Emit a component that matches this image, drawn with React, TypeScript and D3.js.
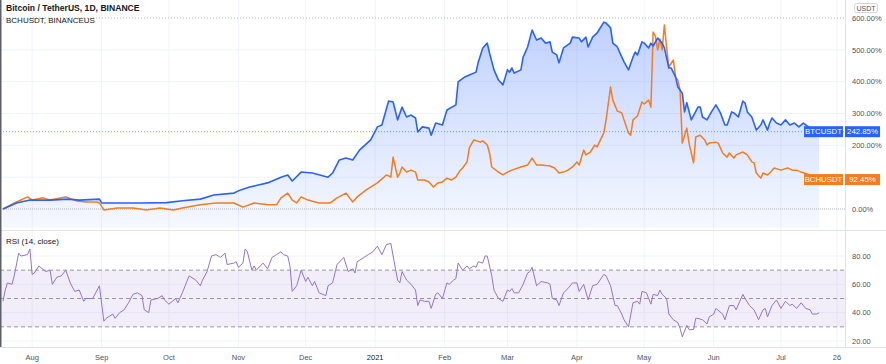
import React from "react";
import * as d3 from "d3";

// day offsets from 2020-07-19, percent change
const btcSeries: [number, number][] = [
  [0, 0], [6, 19], [12, 28], [21, 28], [29, 31], [34, 28], [43, 31], [44, 19], [51, 19], [61, 19],
  [73, 20], [80, 26], [88, 31], [94, 44], [103, 50], [106, 60], [110, 69], [118, 82], [124, 100], [127, 107],
  [129, 88], [133, 116], [138, 113], [145, 100], [147, 113], [150, 154], [153, 160], [156, 154], [159, 185], [164, 217],
  [167, 258], [169, 264], [172, 339], [174, 336], [176, 280], [178, 320], [180, 289], [182, 295], [184, 286], [185, 242],
  [187, 258], [190, 254], [191, 232], [193, 270], [196, 264], [198, 311], [202, 327], [203, 399], [206, 415], [208, 421],
  [211, 430], [212, 462], [214, 506], [216, 521], [217, 490], [219, 437], [221, 405], [223, 390], [225, 437], [226, 430],
  [227, 443], [228, 427], [231, 437], [232, 477], [234, 509], [236, 562], [238, 531], [240, 537], [242, 521], [244, 525],
  [245, 493], [247, 484], [248, 459], [250, 506], [253, 521], [254, 540], [257, 537], [258, 525], [260, 540], [261, 509],
  [263, 540], [265, 553], [268, 587], [269, 584], [271, 569], [272, 521], [274, 509], [275, 493], [277, 462], [279, 437],
  [281, 477], [282, 493], [283, 484], [285, 525], [286, 521], [288, 506], [289, 521], [290, 512], [292, 537], [294, 521],
  [295, 506], [297, 443], [298, 443], [300, 415], [301, 383], [303, 364], [304, 305], [305, 334], [307, 280], [310, 320],
  [311, 320], [312, 289], [314, 280], [316, 305], [318, 327], [320, 302], [322, 264], [323, 264], [325, 305], [326, 302],
  [328, 289], [330, 339], [331, 333], [332, 305], [334, 289], [336, 248], [338, 264], [339, 280], [341, 248], [342, 270],
  [343, 286], [345, 270], [347, 264], [349, 280], [351, 264], [353, 270], [355, 258], [357, 270], [360, 254], [362, 248],
  [364, 242.85],
];

const bchSeries: [number, number][] = [
  [0, 0], [6, 22], [11, 38], [13, 28], [18, 35], [21, 28], [28, 38], [33, 25], [37, 22], [42, 22],
  [43, 19], [45, -3], [51, 3], [58, 3], [64, -3], [70, 3], [76, -3], [80, 3], [88, 13], [95, 19],
  [103, 19], [107, 6], [112, 19], [118, 13], [122, 13], [124, 35], [127, 50], [129, 28], [131, 19], [133, 38],
  [136, 28], [141, 19], [146, 19], [149, 35], [153, 50], [156, 22], [158, 38], [162, 60], [167, 82], [171, 107],
  [173, 100], [174, 163], [176, 100], [177, 113], [178, 132], [180, 116], [182, 122], [184, 116], [185, 91], [188, 91],
  [190, 85], [192, 69], [194, 82], [196, 85], [198, 97], [200, 91], [202, 100], [204, 122], [205, 129], [207, 148],
  [208, 192], [210, 217], [213, 210], [214, 214], [216, 201], [217, 176], [218, 132], [221, 116], [223, 107], [225, 116],
  [227, 122], [231, 132], [234, 138], [236, 160], [238, 138], [240, 138], [244, 135], [246, 129], [248, 113], [250, 116],
  [252, 122], [254, 132], [256, 148], [257, 138], [259, 185], [260, 170], [262, 179], [264, 201], [265, 195], [266, 210],
  [268, 239], [269, 280], [271, 383], [272, 342], [274, 308], [276, 302], [277, 280], [279, 239], [280, 232], [281, 280],
  [283, 292], [285, 336], [286, 330], [288, 342], [289, 320], [290, 556], [291, 543], [292, 500], [293, 534], [294, 500],
  [295, 578], [296, 506], [297, 446], [299, 468], [300, 415], [301, 405], [302, 374], [303, 207], [305, 254], [306, 207],
  [308, 145], [309, 226], [311, 232], [313, 217], [314, 201], [315, 207], [318, 210], [319, 207], [321, 176], [323, 163],
  [324, 176], [326, 160], [327, 170], [330, 179], [332, 170], [334, 148], [335, 145], [336, 113], [338, 97], [339, 113],
  [341, 107], [342, 113], [344, 129], [347, 122], [350, 129], [352, 122], [354, 122], [356, 116], [360, 107], [362, 100],
  [364, 92.45],
];

const rsiSeries: [number, number][] = [
  [0, 48], [1, 56], [2, 61], [4, 60], [5, 66], [7, 82], [8, 80], [11, 81], [12, 85], [13, 67],
  [14, 68], [16, 73], [19, 69], [21, 70], [22, 60], [24, 65], [26, 66], [28, 70], [30, 61], [32, 55],
  [34, 56], [36, 48], [37, 50], [40, 50], [42, 56], [43, 59], [45, 34], [46, 36], [49, 39], [50, 36],
  [52, 40], [54, 42], [56, 47], [58, 53], [60, 54], [62, 52], [63, 42], [65, 40], [66, 49], [69, 50],
  [71, 52], [72, 49], [74, 46], [77, 50], [78, 47], [80, 54], [82, 62], [83, 66], [86, 63], [88, 59],
  [89, 63], [91, 69], [93, 80], [95, 81], [97, 79], [99, 82], [100, 74], [103, 75], [104, 76], [105, 72],
  [107, 75], [108, 85], [109, 83], [111, 70], [112, 73], [113, 70], [116, 75], [118, 71], [120, 79], [122, 81],
  [124, 83], [125, 81], [127, 80], [128, 73], [129, 55], [131, 59], [133, 70], [135, 62], [136, 65], [138, 59],
  [139, 62], [141, 54], [144, 52], [145, 59], [147, 61], [149, 74], [152, 79], [154, 69], [156, 71], [157, 68],
  [158, 76], [161, 79], [163, 81], [165, 83], [167, 87], [169, 81], [171, 88], [173, 89], [174, 80], [176, 63],
  [177, 61], [178, 69], [180, 63], [182, 60], [184, 56], [185, 45], [186, 49], [188, 48], [190, 48], [191, 43],
  [193, 53], [194, 54], [196, 50], [198, 61], [199, 60], [201, 63], [202, 64], [203, 75], [205, 70], [207, 73],
  [208, 71], [210, 73], [211, 72], [212, 76], [214, 75], [215, 80], [216, 80], [218, 66], [219, 56], [221, 50],
  [223, 48], [225, 56], [226, 55], [227, 57], [228, 54], [230, 54], [232, 60], [234, 68], [235, 69], [236, 72],
  [238, 59], [240, 62], [243, 61], [244, 60], [245, 50], [247, 49], [248, 45], [250, 54], [252, 57], [254, 61],
  [256, 61], [257, 55], [259, 60], [261, 49], [263, 59], [265, 60], [268, 67], [269, 66], [271, 59], [273, 45],
  [274, 45], [276, 39], [277, 35], [279, 30], [281, 47], [283, 48], [284, 46], [285, 55], [287, 54], [289, 46],
  [290, 53], [292, 52], [293, 56], [294, 53], [296, 50], [297, 39], [299, 35], [301, 33], [302, 29], [303, 23],
  [305, 31], [306, 28], [308, 28], [309, 36], [310, 36], [312, 35], [314, 32], [315, 37], [317, 39], [318, 43],
  [321, 39], [322, 35], [324, 45], [326, 45], [327, 42], [330, 53], [331, 50], [333, 45], [335, 42], [337, 35],
  [339, 42], [340, 43], [341, 37], [343, 45], [345, 49], [347, 43], [349, 48], [351, 45], [352, 46], [354, 43],
  [356, 47], [358, 43], [360, 42], [361, 39], [363, 39], [364, 40],
];

const startDate = "2020-07-19";
const endDate = "2021-07-26";
const tickDates = [
  "2020-08-01", "2020-09-01", "2020-10-01", "2020-11-01", "2020-12-01", "2021-01-01",
  "2021-02-01", "2021-03-01", "2021-04-01", "2021-05-01", "2021-06-01", "2021-07-01", "2021-07-26",
];
const tickLabels = ["Aug", "Sep", "Oct", "Nov", "Dec", "2021", "Feb", "Mar", "Apr", "May", "Jun", "Jul", "26"];
const pctTicks = [0, 100, 200, 300, 400, 500, 600];
const rsiTicks = [20, 40, 60, 80];
const rsiBands = [30, 50, 70];

const symbols = ["BTCUSDT", "BCHUSDT"];
const lastLabels = ["242.85%", "92.45%"];
const titleMain = "Bitcoin / TetherUS, 1D, BINANCE";
const titleSub = "BCHUSDT, BINANCEUS";

const W = 886;
const H = 364;
const FONT = "'Liberation Sans', Arial, sans-serif";
const BLUE = "#2962ff";
const ORANGE = "#f57c1f";
const PURPLE = "#9575cd";

export default function App() {
  const parse = d3.timeParse("%Y-%m-%d");
  const start = parse(startDate) as Date;
  const day = (d: number) => d3.timeDay.offset(start, d);

  // panes
  const plotRight = 845;
  const mainBottom = 230;
  const rsiBottom = 347;

  const x = d3.scaleTime().domain([start, parse(endDate) as Date]).range([3, 837]);
  const y = d3.scaleLinear().domain([0, 600]).range([209, 18]);
  const yr = d3.scaleLinear().domain([20, 80]).range([341, 256]);

  const line = d3
    .line<[number, number]>()
    .x((d) => x(day(d[0])))
    .y((d) => y(d[1]));
  const area = d3
    .area<[number, number]>()
    .x((d) => x(day(d[0])))
    .y0(mainBottom - 2)
    .y1((d) => y(d[1]));
  const rsiLine = d3
    .line<[number, number]>()
    .x((d) => x(day(d[0])))
    .y((d) => yr(d[1]));

  const ticks = tickDates.map((t) => parse(t) as Date);
  const btcLast = btcSeries[btcSeries.length - 1][1];
  const bchLast = bchSeries[bchSeries.length - 1][1];
  const lastVals = [btcLast, bchLast];

  // price labels hidden behind the last-value boxes
  const visibleTicks = pctTicks.filter((p) => lastVals.every((v) => Math.abs(y(p) - y(v)) > 10));

  const labelBox = (val: number, color: string, i: number) => {
    const cy = y(val);
    return (
      <g key={i}>
        <rect x={804} y={cy - 5.5} width={39} height={11} fill={color} />
        <text x={823.5} y={cy + 2.8} fill="#fff" fontSize={7.8} textAnchor="middle">{symbols[i]}</text>
        <rect x={845} y={cy - 5.5} width={35} height={11} fill={color} />
        <text x={862.5} y={cy + 2.8} fill="#fff" fontSize={7.8} textAnchor="middle">{lastLabels[i]}</text>
      </g>
    );
  };

  return (
    <svg
      width={W}
      height={H}
      style={{ position: "absolute", left: 0, top: 0, background: "#fff" }}
      fontFamily={FONT}
    >
      <defs>
        <linearGradient id="btcFill" gradientUnits="userSpaceOnUse" x1={0} y1={18} x2={0} y2={mainBottom}>
          <stop offset="0%" stopColor={BLUE} stopOpacity={0.3} />
          <stop offset="100%" stopColor={BLUE} stopOpacity={0.04} />
        </linearGradient>
      </defs>

      {/* vertical grid */}
      {ticks.map((t, i) => (
        <line key={i} x1={x(t)} x2={x(t)} y1={0} y2={rsiBottom} stroke="#f0f3fa" />
      ))}

      {/* main pane horizontal grid */}
      {pctTicks.slice(1, -1).map((p) => (
        <line key={p} x1={0} x2={plotRight} y1={y(p)} y2={y(p)} stroke="#f0f3fa" />
      ))}
      <line x1={0} x2={plotRight} y1={y(600)} y2={y(600)} stroke="#b2b5be" strokeDasharray="1,2" />

      {/* BTC area + lines */}
      <path d={area(btcSeries) || ""} fill="url(#btcFill)" />
      <line x1={0} x2={plotRight} y1={y(0)} y2={y(0)} stroke="#b2b5be" strokeDasharray="1,1" />
      <line x1={0} x2={plotRight} y1={y(btcLast)} y2={y(btcLast)} stroke={BLUE} strokeOpacity={0.6} strokeDasharray="1,2" />
      <path d={line(bchSeries) || ""} fill="none" stroke={ORANGE} strokeWidth={1.5} strokeLinejoin="round" />
      <path d={line(btcSeries) || ""} fill="none" stroke={BLUE} strokeWidth={1.6} strokeLinejoin="round" />

      {/* titles */}
      <text x={6} y={11} fontSize={8.6} fontWeight="bold" fill="#131722">{titleMain}</text>
      <text x={6} y={23} fontSize={8} fill="#131722">{titleSub}</text>

      {/* price axis */}
      <line x1={plotRight + 0.5} x2={plotRight + 0.5} y1={0} y2={rsiBottom} stroke="#e0e3eb" />
      {visibleTicks.map((p) => (
        <text key={p} x={852} y={y(p) + 2.7} fontSize={7.5} fill="#50535e">{p.toFixed(2)}%</text>
      ))}
      <rect x={854.5} y={3.5} width={23} height={9} rx={2} fill="#fff" stroke="#d1d4dc" />
      <text x={866} y={10.5} fontSize={7} fill="#50535e" textAnchor="middle">USDT</text>
      {labelBox(btcLast, BLUE, 0)}
      {labelBox(bchLast, ORANGE, 1)}

      {/* pane divider */}
      <line x1={0} x2={W} y1={mainBottom + 0.5} y2={mainBottom + 0.5} stroke="#e0e3eb" />

      {/* RSI pane */}
      {rsiTicks.map((r) => (
        <line key={r} x1={0} x2={plotRight} y1={yr(r)} y2={yr(r)} stroke="#f0f3fa" />
      ))}
      <rect x={0} y={yr(70)} width={plotRight} height={yr(30) - yr(70)} fill="#7e57c2" fillOpacity={0.1} />
      {rsiBands.map((b) => (
        <line key={b} x1={0} x2={plotRight} y1={yr(b)} y2={yr(b)} stroke="#9598a1" strokeDasharray="4,3" />
      ))}
      <path d={rsiLine(rsiSeries) || ""} fill="none" stroke={PURPLE} strokeWidth={1} strokeLinejoin="round" />
      <text x={6} y={244} fontSize={8} fill="#131722">RSI (14, close)</text>
      {rsiTicks.map((r) => (
        <text key={r} x={852} y={yr(r) + 2.7} fontSize={7.5} fill="#50535e">{r.toFixed(2)}</text>
      ))}

      {/* time axis */}
      <line x1={0} x2={W} y1={rsiBottom + 0.5} y2={rsiBottom + 0.5} stroke="#e0e3eb" />
      {ticks.map((t, i) => (
        <text
          key={i}
          x={x(t)}
          y={360}
          fontSize={7.5}
          textAnchor="middle"
          fill={tickLabels[i] === "2021" ? "#131722" : "#50535e"}
        >
          {tickLabels[i]}
        </text>
      ))}

      {/* left edge */}
      <line x1={0.75} x2={0.75} y1={0} y2={rsiBottom} stroke="#5d606b" strokeWidth={1.5} />
    </svg>
  );
}
